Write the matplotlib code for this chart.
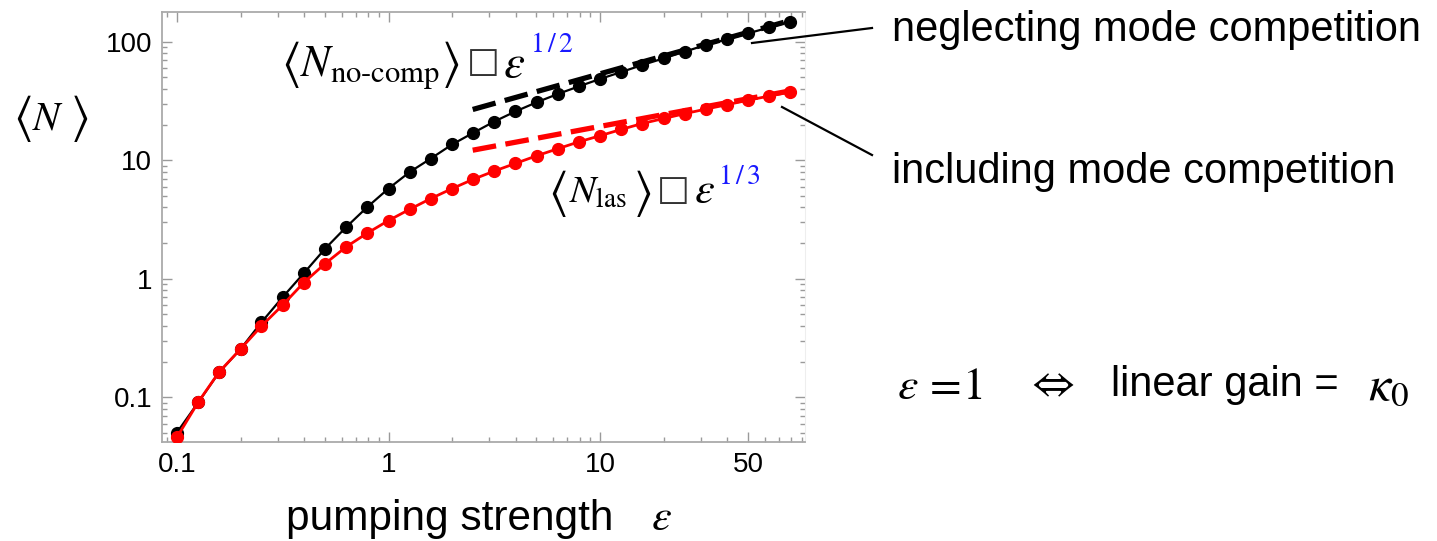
import matplotlib
matplotlib.use('Agg')
import matplotlib.pyplot as plt
import numpy as np
from matplotlib.ticker import FixedLocator, LogLocator, NullFormatter
from matplotlib.lines import Line2D

plt.rcParams['mathtext.fontset'] = 'stix'
plt.rcParams['font.family'] = ['Liberation Sans', 'DejaVu Sans']

# ---- data ----
eps = [0.1, 0.126, 0.158, 0.2, 0.251, 0.316, 0.398, 0.501, 0.631, 0.794,
       1.0, 1.26, 1.58, 2.0, 2.51, 3.16, 3.98, 5.01, 6.31, 7.94,
       10.0, 12.6, 15.8, 20.0, 25.1, 31.6, 39.8, 50.1, 63.1, 79.4]
n_nocomp = [0.0505, 0.0905, 0.162, 0.256, 0.43, 0.70, 1.115, 1.79, 2.73, 4.03,
            5.77, 7.96, 10.3, 13.6, 17.0, 21.2, 25.8, 30.8, 36.2, 42.0,
            48.5, 55.5, 63.5, 72.4, 82.4, 93.8, 104.8, 117.6, 132.0, 147.6]
n_las = [0.046, 0.091, 0.163, 0.256, 0.40, 0.60, 0.93, 1.34, 1.86, 2.43,
         3.1, 3.86, 4.74, 5.77, 6.9, 8.1, 9.4, 10.9, 12.5, 14.3,
         16.1, 18.2, 20.4, 22.5, 24.7, 27.0, 29.4, 32.1, 34.8, 37.8]
fit_eps = [2.5, 79.4]
fit_nocomp = [26.8, 151.0]
fit_las = [12.15, 38.5]

xticks = [0.1, 1, 10, 50]
xticklabels = ['0.1', '1', '10', '50']
yticks = [0.1, 1, 10, 100]
yticklabels = ['0.1', '1', '10', '100']

W, H = 1437, 541
fig = plt.figure(figsize=(W / 100, H / 100), dpi=100)
ax = fig.add_axes([162 / W, (H - 442) / H, (805 - 162) / W, (442 - 12) / H])
ax.set_xscale('log')
ax.set_yscale('log')
ax.set_xlim(0.085, 93)
ax.set_ylim(0.042, 178)

ax.plot(fit_eps, fit_nocomp, color='black', lw=3.8, dashes=(4.5, 1.8),
        dash_capstyle='butt', zorder=2)
ax.plot(fit_eps, fit_las, color='red', lw=3.8, dashes=(4.5, 1.8),
        dash_capstyle='butt', zorder=2)
ax.plot(eps, n_nocomp, '-o', color='black', lw=1.6, ms=8.5, zorder=3)
ax.plot(eps, n_las, '-o', color='red', lw=2.0, ms=8.5, zorder=4)

ax.xaxis.set_major_locator(FixedLocator(xticks))
ax.set_xticklabels(xticklabels)
ax.xaxis.set_minor_locator(LogLocator(base=10, subs=np.arange(2, 10)))
ax.xaxis.set_minor_formatter(NullFormatter())
ax.yaxis.set_major_locator(FixedLocator(yticks))
ax.set_yticklabels(yticklabels)
ax.yaxis.set_minor_locator(LogLocator(base=10, subs=np.arange(2, 10)))
ax.yaxis.set_minor_formatter(NullFormatter())

ax.tick_params(which='both', direction='in', top=True, right=True,
               color='#9a9a9a', labelcolor='black', labelsize=20, width=1)
ax.tick_params(which='major', length=7, pad=7)
ax.tick_params(which='minor', length=3.5)
for s in ['left', 'bottom', 'top']:
    ax.spines[s].set_color('#aaaaaa')
    ax.spines[s].set_linewidth(1.3)
ax.spines['right'].set_color('#eeeeee')


def ftext(x, y, s, **kw):
    """Place text using reference pixel coordinates (y from top)."""
    return fig.text(x / W, 1 - y / H, s, **kw)


# y label <N>
ftext(13, 118, r'$\langle$', fontsize=36, ha='left', va='center')
ftext(32, 130, r'$N$', fontsize=29, ha='left', va='baseline')
ftext(70, 118, r'$\rangle$', fontsize=36, ha='left', va='center')

# x label
ftext(286, 519, 'pumping strength', fontsize=30.5, ha='left', va='center')
ftext(651, 519, r'$\varepsilon$', fontsize=32, ha='left', va='center')

# annotation: no competition
ftext(281, 65, r'$\langle$', fontsize=36, ha='left', va='center')
ftext(300, 77, r'$N_{\mathrm{no\text{-}comp}}$', fontsize=31.5, ha='left', va='baseline')
ftext(441, 65, r'$\rangle$', fontsize=36, ha='left', va='center')
ftext(467, 62, '\u25a1', fontsize=25, ha='left', va='center',
      family='DejaVu Sans', color='#333333')
ftext(503, 77, r'$\varepsilon$', fontsize=34, ha='left', va='baseline')
ftext(530, 45, r'$\mathrm{1\,/\,2}$', fontsize=20, ha='left',
      va='center', color='#1a1aff')

# annotation: with competition
ftext(548, 193, r'$\langle$', fontsize=36, ha='left', va='center')
ftext(569, 203, r'$N_{\mathrm{las}}$', fontsize=28, ha='left', va='baseline')
ftext(633, 193, r'$\rangle$', fontsize=36, ha='left', va='center')
ftext(657, 190, '\u25a1', fontsize=25, ha='left', va='center',
      family='DejaVu Sans', color='#333333')
ftext(694, 203, r'$\varepsilon$', fontsize=32, ha='left', va='baseline')
ftext(718, 177, r'$\mathrm{1\,/\,3}$', fontsize=20, ha='left',
      va='center', color='#1a1aff')

# right-hand labels with leader lines
ftext(892, 30, 'neglecting mode competition', fontsize=30, ha='left', va='center')
ftext(892, 172, 'including mode competition', fontsize=30, ha='left', va='center')
fig.add_artist(Line2D([752 / W, 872 / W], [1 - 43 / H, 1 - 28 / H],
                      color='black', lw=1.6, transform=fig.transFigure))
fig.add_artist(Line2D([782 / W, 872 / W], [1 - 107 / H, 1 - 155 / H],
                      color='black', lw=1.6, transform=fig.transFigure))

# equivalence note
ftext(897, 399, r'$\varepsilon\,=\!1$', fontsize=33, ha='left', va='baseline')
ftext(1026, 385, r'$\Leftrightarrow$', fontsize=32, ha='left', va='center')
ftext(1111, 385, 'linear gain =', fontsize=30, ha='left', va='center')
ftext(1368, 399, r'$\kappa_0$', fontsize=36, ha='left', va='baseline')

fig.savefig('out.png', dpi=100)
